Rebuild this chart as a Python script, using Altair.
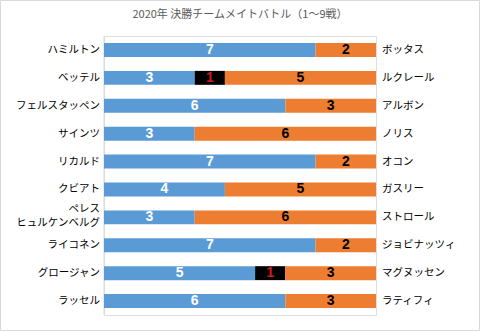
import altair as alt
import pandas as pd

title_text = "2020年 決勝チームメイトバトル（1～9戦）"
left_names = ["ハミルトン", "ベッテル", "フェルスタッペン", "サインツ", "リカルド", "クビアト",
              "ペレス\nヒュルケンベルグ", "ライコネン", "グロージャン", "ラッセル"]
right_names = ["ボッタス", "ルクレール", "アルボン", "ノリス", "オコン", "ガスリー",
               "ストロール", "ジョビナッツィ", "マグヌッセン", "ラティフィ"]
left_wins = [7, 3, 6, 3, 7, 4, 3, 7, 5, 6]
ties = [0, 1, 0, 0, 0, 0, 0, 0, 1, 0]
right_wins = [2, 5, 3, 6, 2, 5, 6, 2, 3, 3]

seg_fill = ["#5B9BD5", "#000000", "#ED7D31"]
seg_text = ["#FFFFFF", "#D01C1C", "#000000"]

rows = []
for i, name in enumerate(left_names):
    for s, v in enumerate([left_wins[i], ties[i], right_wins[i]]):
        rows.append({"row": i, "seg": s, "value": v, "fill": seg_fill[s], "tcol": seg_text[s]})
seg_df = pd.DataFrame(rows)

name_rows = []
for i, n in enumerate(left_names):
    parts = n.split("\n")
    if len(parts) == 1:
        name_rows.append({"row": i, "text": parts[0], "line": 0})
    else:
        name_rows.append({"row": i, "text": parts[0], "line": -1})
        name_rows.append({"row": i, "text": parts[1], "line": 1})
left_df = pd.DataFrame(name_rows)
right_df = pd.DataFrame({"row": list(range(len(right_names))), "text": right_names})
title_df = pd.DataFrame({"t": [title_text]})

FONT = "Noto Sans CJK JP"
yenc = alt.Y("row:O", axis=None, scale=alt.Scale(paddingInner=0.5, paddingOuter=0.25))

base = alt.Chart(seg_df).transform_filter("datum.value > 0").transform_stack(
    stack="value", groupby=["row"], sort=[alt.SortField("seg", "ascending")], as_=["x0", "x1"]
).transform_calculate(mid="(datum.x0 + datum.x1) / 2")

xscale = alt.Scale(domain=[0, 9], nice=False)

bars = base.mark_bar().encode(
    y=yenc,
    x=alt.X("x0:Q", scale=xscale, axis=None),
    x2="x1:Q",
    color=alt.Color("fill:N", scale=None),
)

nums = base.mark_text(fontWeight="bold", fontSize=14, font="Arial", baseline="middle").encode(
    y=yenc,
    x=alt.X("mid:Q", scale=xscale),
    text="value:Q",
    color=alt.Color("tcol:N", scale=None),
)

axis_line = alt.Chart(title_df).mark_rule(color="#D9D9D9").encode(
    x=alt.value(0), y=alt.value(0), y2=alt.value(279)
)

border = alt.Chart(title_df).mark_rect(fill=None, stroke="#D9D9D9", strokeWidth=1).encode(
    x=alt.value(-103.5), x2=alt.value(375.5), y=alt.value(-35.5), y2=alt.value(294.5)
)

title = alt.Chart(title_df).mark_text(font=FONT, fontSize=11, color="#595959",
                                      align="center", baseline="middle").encode(
    x=alt.value(136), y=alt.value(-21), text="t:N")

left_single = alt.Chart(left_df).transform_filter("datum.line == 0").mark_text(
    align="right", baseline="middle", dx=-4, fontSize=10.5, font=FONT, color="#000000").encode(
    y=yenc, x=alt.value(0), text="text:N")
left_top = alt.Chart(left_df).transform_filter("datum.line == -1").mark_text(
    align="right", baseline="middle", dx=-4, dy=-8, fontSize=10.5, font=FONT, color="#000000").encode(
    y=yenc, x=alt.value(0), text="text:N")
left_bot = alt.Chart(left_df).transform_filter("datum.line == 1").mark_text(
    align="right", baseline="middle", dx=-4, dy=6, fontSize=10.5, font=FONT, color="#000000").encode(
    y=yenc, x=alt.value(0), text="text:N")
right_txt = alt.Chart(right_df).mark_text(align="left", baseline="middle", dx=6, fontSize=10.5,
                                          font=FONT, color="#000000").encode(
    y=yenc, x=alt.value(272), text="text:N")

chart = alt.layer(border, axis_line, bars, nums, title, left_single, left_top, left_bot, right_txt).properties(
    width=272, height=279,
    padding={"left": 104, "right": 104, "top": 36, "bottom": 16},
    autosize=alt.AutoSizeParams(type="none"),
).configure_view(stroke=None).configure(background="white")

chart.save("out.html", embed_options={"renderer": "svg", "actions": False})
